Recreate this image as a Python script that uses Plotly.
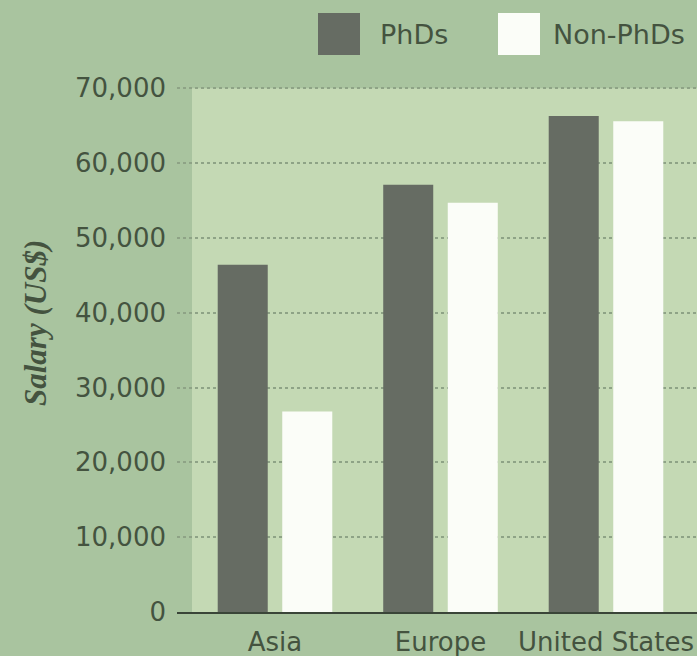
import plotly.graph_objects as go

# Salary by region, PhD holders vs. non-PhDs (US$)
regions = ["Asia", "Europe", "United States"]
phd_salary = [46400, 57100, 66300]
non_phd_salary = [26800, 54700, 65600]
y_ticks = [0, 10000, 20000, 30000, 40000, 50000, 60000, 70000]
y_tick_labels = ["0", "10,000", "20,000", "30,000", "40,000", "50,000", "60,000", "70,000"]
series_names = ["PhDs", "Non-PhDs"]

W, H = 697, 656
L, R, T, B = 177, 0, 86, 44
plot_w = W - L - R
plot_h = H - T - B
y_top = 70300  # a little headroom so the top gridline is drawn

OUTER_BG = "#a9c49f"
PANEL_BG = "#c4d9b4"
DARK_BAR = "#666c63"
LIGHT_BAR = "#fbfdf8"
TEXT = "#44533f"
GRID = "#8ea386"
FONT = "DejaVu Sans"

x_idx = list(range(len(regions)))

fig = go.Figure()
fig.add_trace(go.Bar(x=x_idx, y=phd_salary, name=series_names[0],
                     marker=dict(color=DARK_BAR, line=dict(width=0))))
fig.add_trace(go.Bar(x=x_idx, y=non_phd_salary, name=series_names[1],
                     marker=dict(color=LIGHT_BAR, line=dict(width=0))))


def px_x(px):
    return (px - L) / plot_w


def px_y(py):
    return (H - B - py) / plot_h


shapes = [
    # lighter panel behind the bars
    dict(type="rect", xref="paper", yref="y", x0=px_x(192), x1=1.0,
         y0=0, y1=y_ticks[-1], fillcolor=PANEL_BG, line=dict(width=0), layer="below"),
    # legend swatches
    dict(type="rect", xref="paper", yref="paper", x0=px_x(318), x1=px_x(360),
         y0=px_y(55), y1=px_y(13), fillcolor=DARK_BAR, line=dict(width=0)),
    dict(type="rect", xref="paper", yref="paper", x0=px_x(498), x1=px_x(540),
         y0=px_y(55), y1=px_y(13), fillcolor=LIGHT_BAR, line=dict(width=0)),
]

annotations = [
    dict(text=series_names[0], xref="paper", yref="paper", x=px_x(378), y=px_y(34),
         xanchor="left", yanchor="middle", showarrow=False,
         font=dict(family=FONT, size=27, color=TEXT)),
    dict(text=series_names[1], xref="paper", yref="paper", x=px_x(551), y=px_y(34),
         xanchor="left", yanchor="middle", showarrow=False,
         font=dict(family=FONT, size=27, color=TEXT)),
    dict(text="<b><i>Salary (US$)</i></b>", xref="paper", yref="paper",
         x=px_x(35), y=px_y(323), xanchor="center", yanchor="middle",
         textangle=-90, showarrow=False,
         font=dict(family="Liberation Serif", size=31, color=TEXT)),
]

band = 165.5
x0 = -(275 - L) / band
fig.update_layout(
    width=W, height=H,
    margin=dict(l=L, r=R, t=T, b=B, pad=0),
    paper_bgcolor=OUTER_BG,
    plot_bgcolor=OUTER_BG,
    barmode="group",
    bargap=0.22,
    bargroupgap=0.225,
    showlegend=False,
    shapes=shapes,
    annotations=annotations,
    xaxis=dict(
        range=[x0, x0 + plot_w / band],
        tickvals=x_idx, ticktext=regions,
        showgrid=False, zeroline=False,
        showline=True, linecolor="#3a4538", linewidth=2,
        ticks="", ticklabelstandoff=6,
        tickfont=dict(family=FONT, size=26, color=TEXT),
    ),
    yaxis=dict(
        range=[0, y_top],
        tickvals=y_ticks, ticktext=y_tick_labels,
        showgrid=True, gridcolor=GRID, gridwidth=1.5, griddash="dot",
        zeroline=False, showline=False,
        ticks="", ticklabelstandoff=10,
        tickfont=dict(family=FONT, size=26, color=TEXT),
    ),
)

fig.write_html("out.html")
